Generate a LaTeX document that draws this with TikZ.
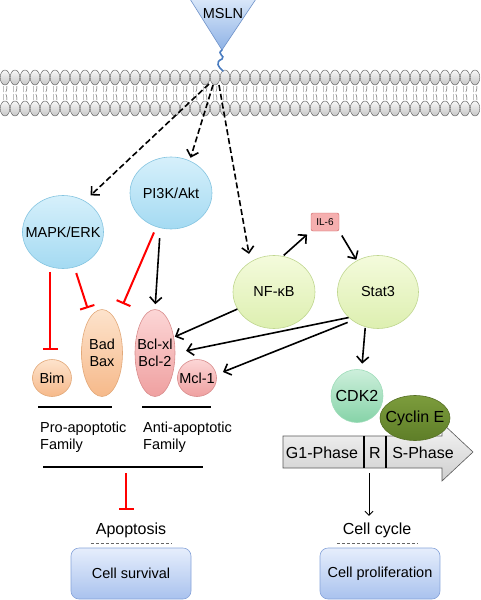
\documentclass[tikz,border=0pt]{standalone}
\usepackage{fontspec}
\setmainfont{Liberation Sans}
\usetikzlibrary{shapes.geometric,arrows.meta}
\definecolor{bluetop}{HTML}{D6F0FB}
\definecolor{bluebot}{HTML}{A4DAF2}
\definecolor{blueline}{HTML}{84C4E0}
\definecolor{orangetop}{HTML}{FDE3CC}
\definecolor{orangebot}{HTML}{F6B98A}
\definecolor{orangeline}{HTML}{E2A878}
\definecolor{pinktop}{HTML}{FCD6D6}
\definecolor{pinkbot}{HTML}{EFA0A0}
\definecolor{pinkline}{HTML}{D88C8C}
\definecolor{greentop}{HTML}{F4FBDC}
\definecolor{greenbot}{HTML}{DDEFB0}
\definecolor{greenline}{HTML}{BFD68F}
\definecolor{cdktop}{HTML}{CDEFDB}
\definecolor{cdkbot}{HTML}{86D3A8}
\definecolor{cyctop}{HTML}{7C9C3C}
\definecolor{cycbot}{HTML}{5E7E28}
\definecolor{cycline}{HTML}{566F25}
\definecolor{celltop}{HTML}{E6EEFC}
\definecolor{cellbot}{HTML}{A9C2EE}
\definecolor{cellline}{HTML}{86A3D9}
\definecolor{mslntop}{HTML}{D9E7F9}
\definecolor{mslnbot}{HTML}{8FB3E6}
\definecolor{mslnline}{HTML}{6F92C9}
\definecolor{squiggle}{HTML}{4A7CC0}
\definecolor{il6fill}{HTML}{F5AFAF}
\definecolor{il6line}{HTML}{CC5E5E}

\begin{document}
\begin{tikzpicture}[x=1pt, y=-1pt,
  font=\fontsize{14.5}{17}\selectfont,
  bubble/.style 2 args={ellipse, draw, inner sep=0pt, line width=0.6pt,
    minimum width=#1pt, minimum height=#2pt},
  bluefill/.style={top color=bluetop, bottom color=bluebot, draw=blueline},
  orangefill/.style={top color=orangetop, bottom color=orangebot, draw=orangeline},
  pinkfill/.style={top color=pinktop, bottom color=pinkbot, draw=pinkline},
  greenfill/.style={top color=greentop, bottom color=greenbot, draw=greenline},
  head/.style={draw=black!65, line width=0.4pt, top color=gray!5, bottom color=gray!45},
  tail/.style={black!70, line width=0.4pt},
  act/.style={line width=1.6pt, -{Straight Barb[length=6pt,width=12pt]}},
  dasharrow/.style={act, dash pattern=on 6pt off 3pt},
  inhib/.style={red, line width=2pt, -{Bar[width=15pt]}},
  rule/.style={line width=1.6pt},
  dashline/.style={black!60, line width=0.6pt, dash pattern=on 3pt off 2pt},
  cellbox/.style={draw=cellline, line width=0.6pt, top color=celltop, bottom color=cellbot,
    rounded corners=8pt, minimum width=120pt, minimum height=51pt, inner sep=0pt},
  bigtext/.style={font=\fontsize{16}{19}\selectfont}
]
\useasboundingbox (0,0) rectangle (481,600);

\foreach \i in {0,...,47}{
  \pgfmathsetmacro\hx{5+10*\i}
  \draw[head] (\hx,77.5) ellipse [x radius=4.8pt, y radius=7.5pt];
  \draw[head] (\hx,108.5) ellipse [x radius=4.8pt, y radius=7.5pt];
  \draw[tail] (\hx-1.8,86) -- (\hx-1.8,92) (\hx+1.8,86) -- (\hx+1.8,89) -- (\hx+0.8,92);
  \draw[tail] (\hx-1.8,100) -- (\hx-1.8,94) (\hx+1.8,100) -- (\hx+1.8,97) -- (\hx+0.8,94);
}

\draw[draw=mslnline, line width=0.6pt, top color=mslntop, bottom color=mslnbot]
  (190,-1) -- (256,-1) -- (222,50) -- cycle;
\node (msln) at (223,14) {MSLN};
\coordinate (tip) at (222,50);
\draw[squiggle, line width=1.6pt, line cap=round]
  (tip) .. controls (216,54) and (226,56) .. (222,59)
  .. controls (215,62) and (218,67) .. (223,71);

\coordinate (src1) at (209,84);
\coordinate (src2) at (213,85);
\coordinate (src3) at (219,85);

\node[bubble={81}{73}, bluefill, label=center:MAPK/ERK] (mapk) at (63,232) {};
\node[bubble={82}{72}, bluefill, label=center:PI3K/Akt] (pik) at (171,193) {};
\node[bubble={82}{73}, greenfill, label=center:NF-κB] (nfkb) at (274,292) {};
\node[bubble={81}{73}, greenfill, label=center:Stat3] (stat) at (378,292) {};
\node[draw=il6line, fill=il6fill, rounded corners=2pt, minimum width=28pt, minimum height=18pt,
  inner sep=0pt, font=\fontsize{10}{12}\selectfont] (il6) at (325,222) {IL-6};
\node[bubble={39}{37}, orangefill, label=center:Bim] (bim) at (52,378) {};
\node[bubble={41}{87}, orangefill, label={[align=center]center:Bad\\Bax}] (bad) at (102,353) {};
\node[bubble={40}{87}, pinkfill, label={[align=center]center:Bcl-xl\\Bcl-2}] (bcl) at (155,353) {};
\node[bubble={39}{37}, pinkfill, label=center:Mcl-1] (mcl) at (197,378) {};

\draw[dasharrow, shorten >=8pt] (src1) -- (mapk.55);
\draw[dasharrow, shorten >=3pt] (src2) -- (pik.60);
\draw[dasharrow, shorten >=8pt] (src3) -- (nfkb.128);

\draw[inhib, shorten <=5pt, shorten >=9pt] (mapk.250) -- (mapk.250 |- bim.north);
\draw[inhib, shorten <=6pt, shorten >=9pt] (mapk) -- (bad);
\draw[inhib, shorten <=6pt, shorten >=18pt] (pik) -- (bad);
\draw[act, shorten <=10pt, shorten >=5pt] (pik.253) -- (bcl.north);
\draw[act, shorten >=1pt] (nfkb.205) -- (bcl.40);
\draw[act, shorten >=11pt] (stat.221) -- (bcl.east);
\draw[act, shorten <=5pt, shorten >=7pt] (stat.228) -- (mcl.10);
\draw[act, shorten <=1pt, shorten >=5pt] (nfkb.76) -- (il6.south west);
\draw[act, shorten <=5pt, shorten >=1pt] (il6.south east) -- (stat.124);

\draw[rule] (38,407) -- (112,407);
\draw[rule] (142,407) -- (211,407);
\node[anchor=north west, align=left, inner sep=0pt] (pro) at (40,422) {Pro-apoptotic\\Family};
\node[anchor=north west, align=left, inner sep=0pt] (anti) at (143,422) {Anti-apoptotic\\Family};
\draw[rule] (43,467) -- (203,467);
\coordinate (fam) at (126,467);
\node[bigtext, minimum width=80pt, minimum height=26pt] (apo) at (131,530) {Apoptosis};
\draw[inhib, shorten <=6pt, shorten >=7pt] (fam) -- (fam |- apo.north);
\draw[dashline] (apo.south west) -- (apo.south east);
\node[cellbox] (surv) at (131,573.5) {Cell survival};

\draw[draw=gray!70!black, line width=0.6pt, top color=gray!8, bottom color=gray!38]
  (283,436) -- (442,436) -- (442,423) -- (473,452) -- (442,481) -- (442,468) -- (283,468) -- cycle;
\draw[line width=1.8pt] (364,436) -- (364,468) (386,436) -- (386,468);
\node[bigtext] (g1) at (322,453) {G1-Phase};
\node[bigtext] (rph) at (375,453) {R};
\node[bigtext] (sph) at (423,453) {S-Phase};

\node[bubble={52}{53}, draw=cdkbot!80, top color=cdktop, bottom color=cdkbot,
  label={[bigtext]center:CDK2}] (cdk) at (357,396) {};
\node[bubble={70}{45}, draw=cycline, top color=cyctop, bottom color=cycbot,
  label={[bigtext]center:Cyclin E}] (cyc) at (415,418) {};
\draw[act, shorten <=1pt, shorten >=6pt] (stat.250) -- (cdk.80);

\coordinate (rdrop) at (369,473);
\node[bigtext, minimum width=80pt, minimum height=26pt] (cyct) at (377,530) {Cell cycle};
\draw[line width=0.9pt, -{Straight Barb[length=4pt,width=8pt]}, shorten >=1pt] (rdrop) -- (rdrop |- cyct.north);
\draw[dashline] (cyct.south west) -- (cyct.south east);
\node[cellbox] (prolif) at (380,573.5) {Cell proliferation};
\end{tikzpicture}
\end{document}
